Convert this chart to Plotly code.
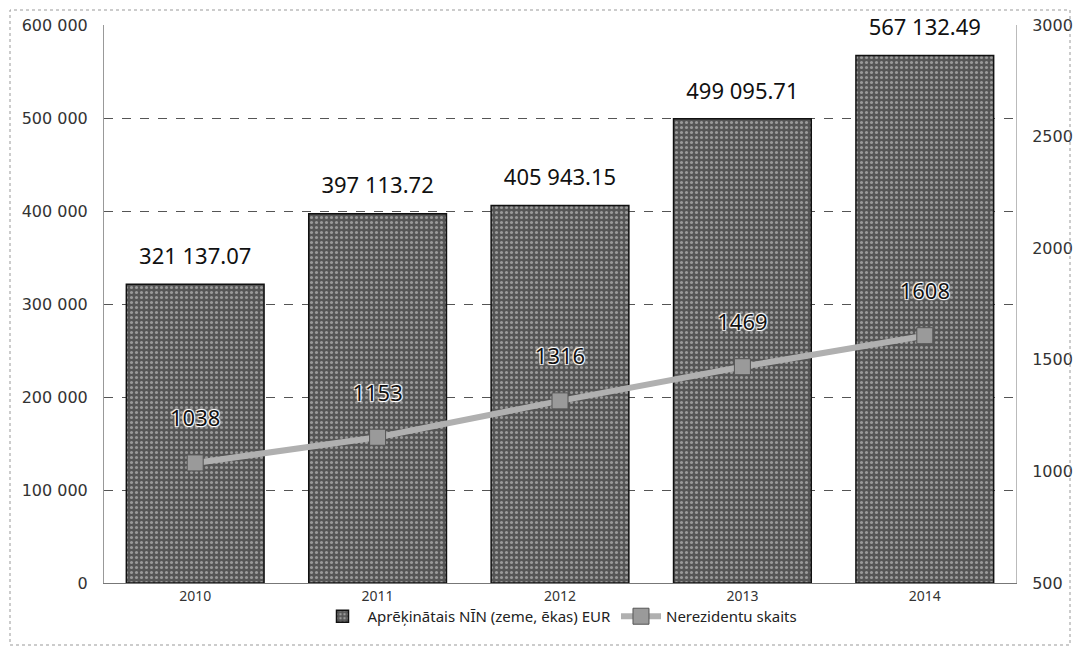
import plotly.graph_objects as go

years = ["2010", "2011", "2012", "2013", "2014"]
nin_eur = [321137.07, 397113.72, 405943.15, 499095.71, 567132.49]
nerezidenti = [1038, 1153, 1316, 1469, 1608]

bar_name = "Aprēķinātais NĪN (zeme, ēkas) EUR"
line_name = "Nerezidentu skaits"

halo = "1px 1px 1px white, -1px -1px 1px white, 1px -1px 1px white, -1px 1px 1px white"

fig = go.Figure()
fig.add_trace(go.Bar(
    x=years, y=nin_eur, name=bar_name,
    marker=dict(color="#6a6a6a", line=dict(color="#111111", width=1.5),
                pattern=dict(shape=".", fgcolor="#e0e0e0", bgcolor="#555555", size=5, solidity=0.3)),
))
# bar value labels (text-only trace anchored on the bar values)
fig.add_trace(go.Scatter(
    x=years, y=nin_eur, mode="markers+text", showlegend=False, hoverinfo="skip",
    marker=dict(size=22, opacity=0),
    texttemplate="%{y:,.2f}", textposition="top center",
    textfont=dict(family="Noto Sans", size=22, color="#111111"),
    cliponaxis=False,
))
fig.add_trace(go.Scatter(
    x=years, y=nerezidenti, name=line_name, yaxis="y2",
    mode="lines+markers",
    line=dict(color="#b0b0b0", width=6),
    marker=dict(symbol="square", size=16, color="#9a9a9a", line=dict(color="#555555", width=1)),
))
fig.add_trace(go.Scatter(
    x=years, y=nerezidenti, yaxis="y2", mode="markers+text", showlegend=False, hoverinfo="skip",
    marker=dict(size=48, opacity=0),
    texttemplate="%{y:d}", textposition="top center",
    textfont=dict(family="Noto Sans", size=22, color="#111111", shadow=halo),
    cliponaxis=False,
))

fig.update_layout(
    width=1065, height=643,
    paper_bgcolor="white", plot_bgcolor="white",
    margin=dict(l=96, r=57, t=17, b=68, autoexpand=False),
    separators=". ",
    bargap=0.245,
    showlegend=True,
    legend=dict(orientation="h", x=0.5, xanchor="center", y=-0.06, yanchor="middle",
                bgcolor="rgba(0,0,0,0)",
                font=dict(family="Noto Sans", size=15, color="#222222"),
                itemwidth=40, traceorder="normal"),
    xaxis=dict(showgrid=False, tickfont=dict(family="Noto Sans", size=14, color="#333333"),
               showline=True, linecolor="#777777", linewidth=1, ticks=""),
    yaxis=dict(range=[0, 600000], dtick=100000, tickformat=",d",
               showgrid=True, gridcolor="#555555", griddash="dash", gridwidth=1,
               tickfont=dict(family="DejaVu Sans", size=16, color="#333333"),
               showline=True, linecolor="#999999", linewidth=1, zeroline=False,
               ticks="outside", ticklen=12, tickcolor="white"),
    yaxis2=dict(range=[500, 3000], dtick=500, overlaying="y", side="right",
                showgrid=False, zeroline=False,
                tickfont=dict(family="DejaVu Sans", size=16, color="#333333"),
                showline=True, linecolor="#bbbbbb", linewidth=1,
                ticks="outside", ticklen=12, tickcolor="white"),
    shapes=[dict(type="rect", xref="paper", yref="paper",
                 x0=-94/912, x1=1+54/912, y0=-62/558, y1=1+15/558,
                 line=dict(color="#999999", width=1, dash="dot"))],
)

fig.write_html("out.html")
